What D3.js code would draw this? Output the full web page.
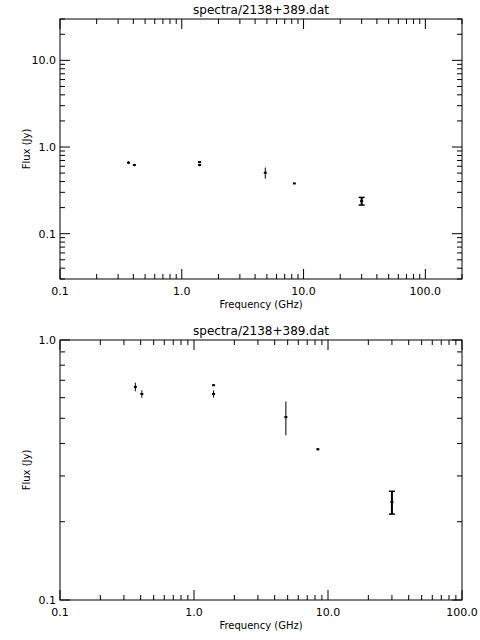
<!DOCTYPE html>
<html>
<head>
<meta charset="utf-8">
<script src="https://cdn.jsdelivr.net/npm/d3@7"></script>
<style>
  body { margin: 0; background: #fff; }
  text { font-family: "DejaVu Sans", sans-serif; fill: #000; }
</style>
</head>
<body>
<svg id="chart" width="480" height="640"></svg>
<script>
// spectrum of 2138+389
const freq = [0.365, 0.408, 1.4, 1.4, 4.85, 8.4, 30.0];
const flux = [0.66, 0.62, 0.67, 0.62, 0.505, 0.38, 0.238];
const fluxErr = [0.025, 0.02, 0.005, 0.02, 0.075, 0.004, 0.024];
const title = "spectra/2138+389.dat";
const xTicks = [0.1, 1, 10, 100];

const svg = d3.select("#chart");
const fmt = d => d.toFixed(1);

function panel(top, xDomain, yDomain, yTicks) {
  const left = 60, right = 462, bottom = top + 260;
  const x = d3.scaleLog().domain(xDomain).range([left, right]);
  const y = d3.scaleLog().domain(yDomain).range([bottom, top]);
  const g = svg.append("g");

  g.append("rect").attr("x", left).attr("y", top)
    .attr("width", right - left).attr("height", bottom - top)
    .attr("fill", "none").attr("stroke", "#000");

  // minor ticks: every integer multiple within decades
  const minorX = [];
  for (let p = -1; p < 3; p++)
    for (let m = 1; m < 10; m++) {
      const v = m * Math.pow(10, p);
      if (v >= xDomain[0] && v <= xDomain[1]) minorX.push(v);
    }
  const minorY = [];
  for (let p = -2; p < 2; p++)
    for (let m = 1; m < 10; m++) {
      const v = m * Math.pow(10, p);
      if (v >= yDomain[0] && v <= yDomain[1]) minorY.push(v);
    }

  minorX.forEach(v => {
    const len = xTicks.includes(v) ? 10 : 5;
    g.append("line").attr("x1", x(v)).attr("x2", x(v)).attr("y1", bottom).attr("y2", bottom - len).attr("stroke", "#000");
    g.append("line").attr("x1", x(v)).attr("x2", x(v)).attr("y1", top).attr("y2", top + len).attr("stroke", "#000");
  });
  minorY.forEach(v => {
    const len = yTicks.some(t => Math.abs(t - v) < 1e-9) ? 10 : 5;
    g.append("line").attr("y1", y(v)).attr("y2", y(v)).attr("x1", left).attr("x2", left + len).attr("stroke", "#000");
    g.append("line").attr("y1", y(v)).attr("y2", y(v)).attr("x1", right).attr("x2", right - len).attr("stroke", "#000");
  });

  xTicks.filter(v => v >= xDomain[0] && v <= xDomain[1]).forEach(v => {
    g.append("text").attr("x", x(v)).attr("y", bottom + 16)
      .attr("text-anchor", "middle").attr("font-size", 11).text(fmt(v));
  });
  yTicks.forEach(v => {
    g.append("text").attr("x", left - 4).attr("y", y(v) + 4)
      .attr("text-anchor", "end").attr("font-size", 11).text(fmt(v));
  });

  g.append("text").attr("x", (left + right) / 2).attr("y", top - 5)
    .attr("text-anchor", "middle").attr("font-size", 12).text(title);
  g.append("text").attr("x", (left + right) / 2).attr("y", bottom + 29)
    .attr("text-anchor", "middle").attr("font-size", 10).text("Frequency (GHz)");
  g.append("text").attr("transform", `translate(${left - 30},${(top + bottom) / 2}) rotate(-90)`)
    .attr("text-anchor", "middle").attr("font-size", 10).text("Flux (Jy)");

  freq.forEach((f, i) => {
    const cx = x(f), lo = y(flux[i] - fluxErr[i]), hi = y(flux[i] + fluxErr[i]);
    const thick = f > 20 ? 2 : 1;
    g.append("line").attr("x1", cx).attr("x2", cx).attr("y1", lo).attr("y2", hi)
      .attr("stroke", "#000").attr("stroke-width", thick);
    if (f > 20) {
      [lo, hi].forEach(yy => g.append("line").attr("x1", cx - 3).attr("x2", cx + 3)
        .attr("y1", yy).attr("y2", yy).attr("stroke", "#000").attr("stroke-width", 1.5));
    }
    g.append("rect").attr("x", cx - 1.5).attr("y", y(flux[i]) - 1).attr("width", 3).attr("height", 2).attr("fill", "#000");
  });
}

panel(19, [0.1, 200], [0.03, 30], [10, 1, 0.1]);
panel(340, [0.1, 100], [0.1, 1], [1, 0.1]);
</script>
</body>
</html>
